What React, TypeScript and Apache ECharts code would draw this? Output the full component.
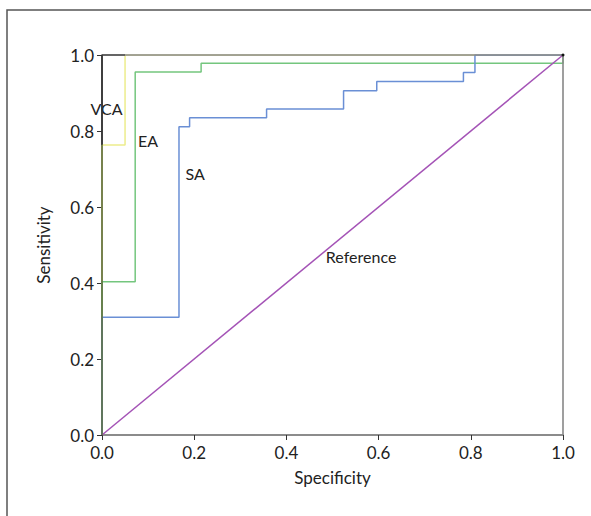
import React, { useEffect, useRef } from "react";
import * as echarts from "echarts";

// ROC curve vertices: [specificity axis value, sensitivity]
const vcaX = [0, 0, 0.05, 0.05, 1];
const vcaY = [0, 0.763, 0.763, 1, 1];
const eaX = [0, 0, 0.072, 0.072, 0.215, 0.215, 1, 1];
const eaY = [0, 0.403, 0.403, 0.955, 0.955, 0.978, 0.978, 1];
const saX = [0, 0, 0.167, 0.167, 0.19, 0.19, 0.357, 0.357, 0.524, 0.524, 0.596, 0.596, 0.784, 0.784, 0.809, 0.809, 1];
const saY = [0, 0.31, 0.31, 0.811, 0.811, 0.835, 0.835, 0.858, 0.858, 0.906, 0.906, 0.93, 0.93, 0.954, 0.954, 1, 1];
const refX = [0, 1];
const refY = [0, 1];
const seriesNames = ["VCA", "EA", "SA", "Reference"];
const tickLabels = ["0.0", "0.2", "0.4", "0.6", "0.8", "1.0"];

const labelAt: Record<string, [number, number]> = {
  VCA: [0.01, 0.86],
  EA: [0.1, 0.776],
  SA: [0.202, 0.689],
  Reference: [0.562, 0.471],
};

const FONT = "Lato, Roboto, sans-serif";

function zip(xs: number[], ys: number[]) {
  return xs.map((x, i) => [x, ys[i]]);
}

export default function App() {
  const ref = useRef<HTMLDivElement>(null);
  useEffect(() => {
    document.body.style.margin = "0";
    const chart = echarts.init(ref.current!, null, { renderer: "svg" });
    const colors = ["#eded8c", "#74c67e", "#6a8fd5", "#a453b6"];
    const datas = [zip(vcaX, vcaY), zip(eaX, eaY), zip(saX, saY), zip(refX, refY)];
    chart.setOption({
      animation: false,
      backgroundColor: "#fff",
      graphic: [
        {
          type: "rect",
          shape: { x: 7, y: 10, width: 700, height: 600 },
          style: { fill: "none", stroke: "#555", lineWidth: 1.5 },
          silent: true,
        },
        {
          type: "polyline",
          shape: { points: [[102, 55], [563, 55], [563, 435]] },
          style: { fill: "none", stroke: "#888", lineWidth: 1.6 },
          silent: true,
          z: 50,
        },
        {
          type: "line",
          shape: { x1: 102, y1: 55, x2: 125, y2: 55 },
          style: { stroke: "#555", lineWidth: 1.6 },
          silent: true,
          z: 51,
        },
        {
          type: "line",
          shape: { x1: 102, y1: 55, x2: 102, y2: 145 },
          style: { stroke: "#333", lineWidth: 1.5 },
          silent: true,
          z: 51,
        },
        {
          type: "line",
          shape: { x1: 102, y1: 145, x2: 102, y2: 435 },
          style: { stroke: "#5b6a3c", lineWidth: 1.5 },
          silent: true,
          z: 51,
        },
        {
          type: "circle",
          shape: { cx: 563, cy: 55, r: 1.5 },
          style: { fill: "#111" },
          silent: true,
          z: 52,
        },
      ],
      grid: {
        left: 102,
        top: 55,
        width: 461,
        height: 380,
      },
      xAxis: {
        type: "value",
        min: 0,
        max: 1,
        interval: 0.2,
        name: "Specificity",
        nameLocation: "middle",
        nameGap: 34,
        nameTextStyle: { fontFamily: FONT, fontSize: 17, color: "#222" },
        axisLine: { show: true, lineStyle: { color: "#666", width: 1.5 } },
        axisTick: { show: true, length: 5, lineStyle: { color: "#333" } },
        axisLabel: {
          fontFamily: FONT,
          fontSize: 17,
          color: "#222",
          margin: 9,
          formatter: (v: number) => tickLabels[Math.round(v / 0.2)],
        },
        splitLine: { show: false },
      },
      yAxis: {
        type: "value",
        min: 0,
        max: 1,
        interval: 0.2,
        name: "Sensitivity",
        nameLocation: "middle",
        nameGap: 50,
        nameTextStyle: { fontFamily: FONT, fontSize: 17, color: "#222" },
        axisLine: { show: true, lineStyle: { color: "#333", width: 1.5 } },
        axisTick: { show: true, length: 5, lineStyle: { color: "#333" } },
        axisLabel: {
          fontFamily: FONT,
          fontSize: 17,
          color: "#222",
          margin: 8,
          formatter: (v: number) => tickLabels[Math.round(v / 0.2)],
        },
        splitLine: { show: false },
      },
      series: seriesNames.map((name, i) => ({
        name,
        type: "line",
        data: datas[i],
        showSymbol: false,
        symbol: "none",
        lineStyle: { color: colors[i], width: 1.5 },
        z: 3 + i,
        markPoint: {
          symbol: "circle",
          symbolSize: 0,
          silent: true,
          data: [
            {
              coord: labelAt[name],
              label: {
                show: true,
                position: "inside",
                formatter: name,
                fontFamily: FONT,
                fontSize: 16,
                color: "#222",
              },
            },
          ],
        },
      })),
    });
    return () => chart.dispose();
  }, []);
  return <div ref={ref} style={{ width: 591, height: 516 }} />;
}
